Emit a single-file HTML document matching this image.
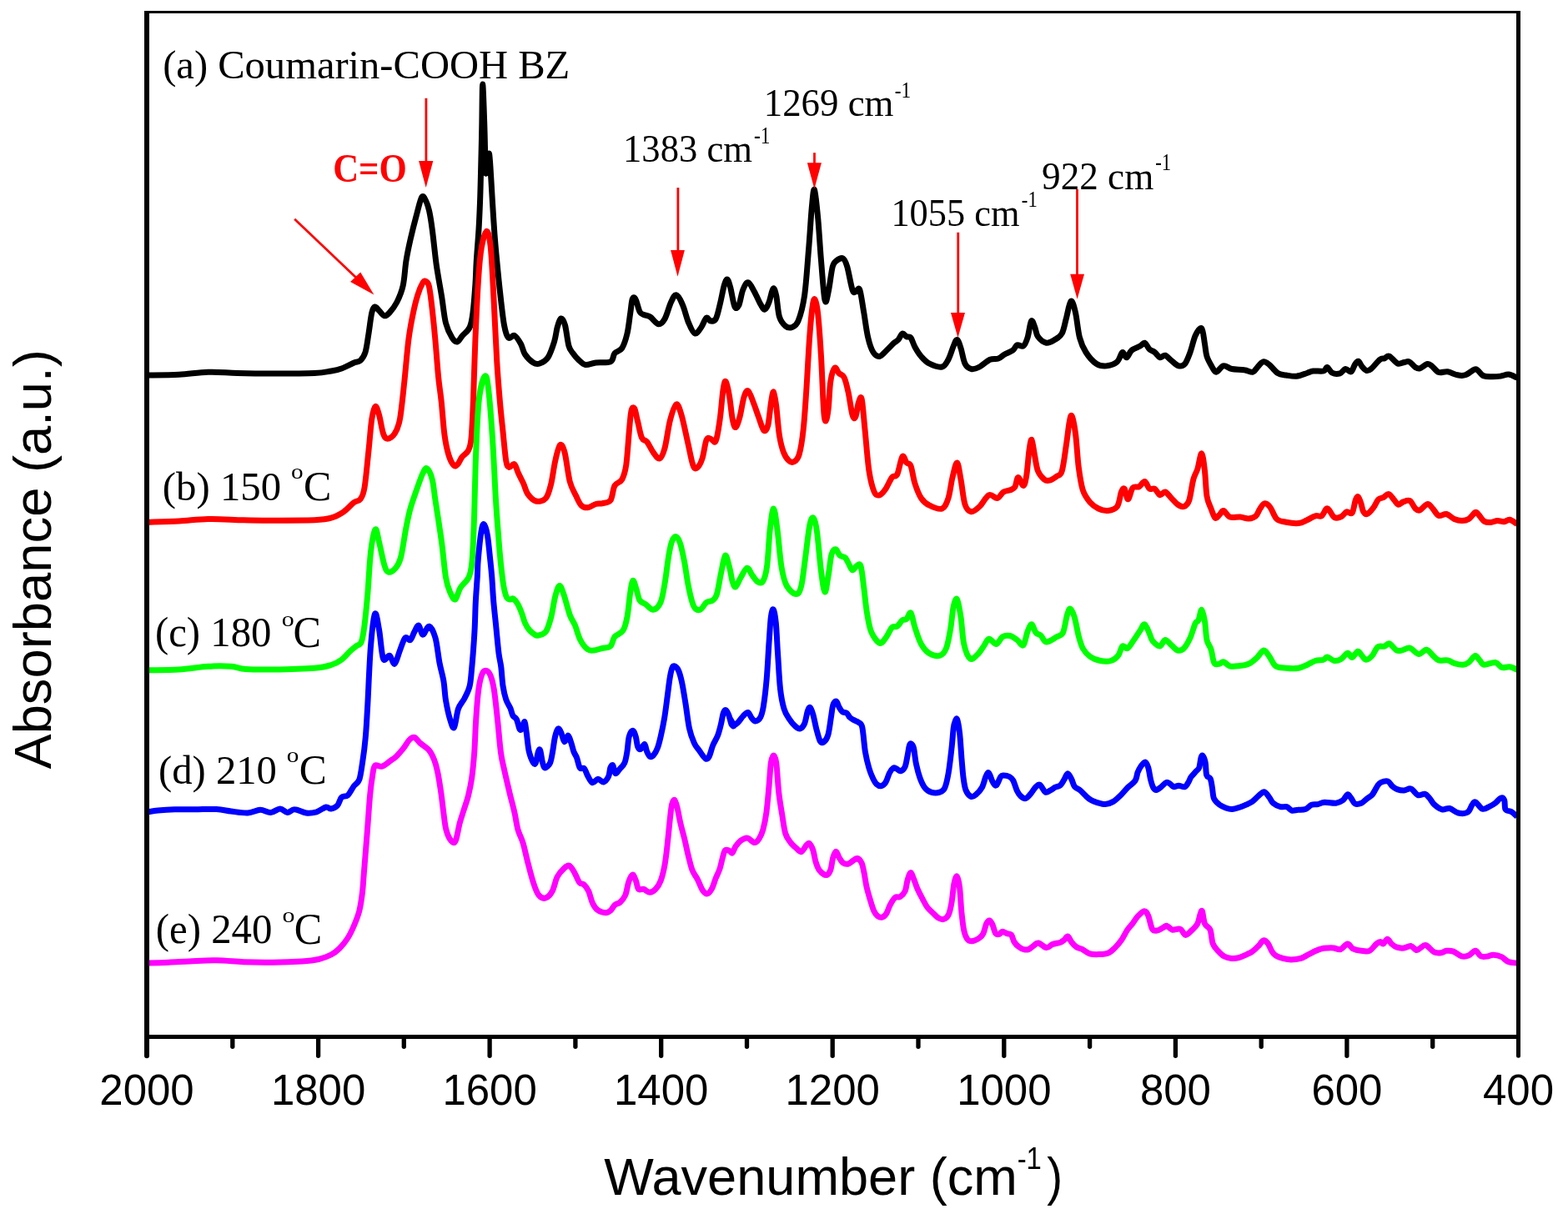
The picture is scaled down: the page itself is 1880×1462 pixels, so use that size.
<!DOCTYPE html><html><head><meta charset="utf-8"><style>html,body{margin:0;padding:0;background:#fff;overflow:hidden;width:1880px;height:1462px;}svg{display:block;}</style></head><body>
<svg width="1880" height="1462" viewBox="0 0 1880 1462">
<rect width="1880" height="1462" fill="#fff"/>
<path d="M177.0,450.0C183.2,449.9 202.4,449.9 214.5,449.3C226.6,448.7 237.8,446.6 249.5,446.3C261.2,446.0 271.6,447.2 284.5,447.5C297.4,447.8 311.6,448.0 327.0,448.0C342.4,448.0 365.3,448.0 377.0,447.5C388.7,447.0 391.6,445.9 397.0,445.0C402.4,444.1 404.9,443.7 409.5,442.0C414.1,440.3 420.8,436.6 424.5,435.0C428.2,433.4 429.8,434.6 432.0,432.5C434.2,430.4 436.3,427.9 438.0,422.5C439.7,417.1 440.7,407.9 442.0,400.0C443.3,392.1 444.5,380.3 445.8,375.0C447.0,369.7 448.0,368.4 449.5,368.0C451.0,367.6 452.6,370.7 454.5,372.5C456.4,374.3 458.7,378.3 460.8,378.8C462.8,379.2 464.5,377.7 467.0,375.0C469.5,372.3 473.0,367.9 475.8,362.5C478.5,357.1 481.4,350.8 483.2,342.5C485.1,334.2 485.5,321.7 487.0,312.5C488.5,303.3 489.9,296.7 492.0,287.5C494.1,278.3 497.2,266.0 499.5,257.5C501.8,249.0 503.9,239.0 505.8,236.2C507.6,233.5 509.3,238.5 510.8,241.2C512.2,244.0 513.2,246.9 514.5,252.5C515.8,258.1 516.8,264.2 518.2,275.0C519.7,285.8 521.4,304.2 523.2,317.5C525.1,330.8 527.6,343.3 529.5,355.0C531.4,366.7 532.4,379.2 534.5,387.5C536.6,395.8 539.7,401.2 542.0,405.0C544.3,408.8 546.2,410.4 548.2,410.0C550.3,409.6 552.0,405.4 554.5,402.5C557.0,399.6 561.2,397.1 563.2,392.5C565.3,387.9 565.9,383.8 567.0,375.0C568.1,366.2 569.3,350.4 570.0,340.0C570.7,329.6 570.6,323.3 571.3,312.5C572.0,301.7 573.3,286.6 574.0,275.0C574.7,263.4 575.0,255.5 575.5,243.0C576.0,230.5 576.3,215.5 576.7,200.0C577.1,184.5 577.5,166.5 577.8,150.0C578.1,133.5 578.2,101.0 578.7,101.0C579.2,101.0 580.3,135.2 580.8,150.0C581.3,164.8 581.5,180.3 581.8,190.0C582.1,199.7 582.2,206.7 582.6,208.0C583.0,209.3 583.7,202.0 584.3,198.0C584.9,194.0 585.7,184.5 586.2,184.0C586.8,183.5 587.2,190.0 587.6,195.0C588.0,200.0 588.3,206.5 588.8,214.0C589.2,221.5 589.6,228.8 590.3,240.0C591.0,251.2 592.2,270.7 593.0,281.5C593.8,292.3 593.9,293.6 595.0,305.0C596.1,316.4 597.9,335.8 599.5,350.0C601.1,364.2 602.8,380.8 604.5,390.0C606.2,399.2 607.4,402.9 609.5,405.0C611.6,407.1 614.5,401.2 617.0,402.5C619.5,403.8 622.4,408.8 624.5,412.5C626.6,416.2 627.0,421.2 629.5,425.0C632.0,428.8 636.6,433.2 639.5,435.0C642.4,436.8 644.1,437.0 647.0,436.0C649.9,435.0 654.1,433.1 657.0,428.8C659.9,424.4 662.6,416.0 664.5,410.0C666.4,404.0 666.9,397.2 668.2,392.5C669.6,387.8 671.2,382.4 672.8,382.0C674.3,381.6 676.0,384.5 677.5,390.0C679.0,395.5 680.4,409.4 682.0,415.0C683.6,420.6 685.1,421.0 687.0,423.8C688.9,426.5 690.8,429.0 693.2,431.2C695.8,433.5 698.5,436.9 702.0,437.5C705.5,438.1 709.5,435.6 714.5,435.0C719.5,434.4 728.2,435.6 732.0,433.8C735.8,431.9 734.7,426.5 737.0,423.8C739.3,421.0 743.2,421.5 745.8,417.5C748.2,413.5 750.3,407.1 752.0,400.0C753.7,392.9 754.7,381.9 755.8,375.0C756.8,368.1 757.2,361.5 758.2,358.8C759.3,356.0 760.5,356.2 762.0,358.8C763.5,361.2 765.3,370.6 767.0,373.8C768.7,376.9 769.9,376.5 772.0,377.5C774.1,378.5 776.6,378.1 779.5,380.0C782.4,381.9 786.6,388.3 789.5,388.8C792.4,389.2 794.5,386.9 797.0,382.5C799.5,378.1 802.2,367.3 804.5,362.5C806.8,357.7 808.5,353.3 810.8,353.8C813.0,354.2 815.8,359.4 818.2,365.0C820.8,370.6 823.2,381.7 825.8,387.5C828.2,393.3 830.8,399.2 833.2,400.0C835.8,400.8 838.5,395.6 840.8,392.5C843.0,389.4 845.1,382.5 847.0,381.2C848.9,380.0 850.1,384.8 852.0,385.0C853.9,385.2 856.4,385.8 858.2,382.5C860.1,379.2 861.6,371.7 863.2,365.0C864.9,358.3 866.8,347.5 868.2,342.5C869.7,337.5 870.8,334.6 872.0,335.0C873.2,335.4 874.3,339.6 875.8,345.0C877.2,350.4 879.1,364.0 880.8,367.5C882.4,371.0 884.1,369.6 885.8,366.2C887.4,362.9 888.9,352.1 890.8,347.5C892.6,342.9 894.7,338.3 897.0,338.8C899.3,339.2 902.0,345.6 904.5,350.0C907.0,354.4 909.9,361.5 912.0,365.0C914.1,368.5 915.3,371.7 917.0,371.2C918.7,370.8 920.3,366.7 922.0,362.5C923.7,358.3 925.5,347.5 927.0,346.2C928.5,345.0 929.5,349.4 930.8,355.0C932.0,360.6 932.6,374.0 934.5,380.0C936.4,386.0 939.5,389.2 942.0,391.2C944.5,393.3 947.0,393.5 949.5,392.5C952.0,391.5 954.5,391.2 957.0,385.0C959.5,378.8 962.4,369.2 964.5,355.0C966.6,340.8 968.0,317.5 969.5,300.0C971.0,282.5 972.1,262.1 973.2,250.0C974.4,237.9 975.2,225.4 976.5,227.5C977.8,229.6 979.4,248.3 980.8,262.5C982.1,276.7 983.1,296.2 984.5,312.5C985.9,328.8 987.5,353.8 989.0,360.0C990.5,366.2 991.7,356.7 993.2,350.0C994.8,343.3 996.6,326.2 998.2,320.0C999.9,313.8 1001.2,314.2 1003.2,312.5C1005.3,310.8 1008.7,308.8 1010.8,310.0C1012.8,311.2 1013.9,313.8 1015.8,320.0C1017.6,326.2 1020.3,342.5 1022.0,347.5C1023.7,352.5 1024.3,350.0 1025.8,350.0C1027.2,350.0 1029.1,343.3 1030.8,347.5C1032.4,351.7 1034.1,365.4 1035.8,375.0C1037.4,384.6 1038.9,397.1 1040.8,405.0C1042.6,412.9 1044.7,418.8 1047.0,422.5C1049.3,426.2 1051.8,427.9 1054.5,427.5C1057.2,427.1 1060.3,422.7 1063.2,420.0C1066.2,417.3 1069.7,413.3 1072.0,411.2C1074.3,409.2 1075.3,409.4 1077.0,407.5C1078.7,405.6 1080.3,400.6 1082.0,400.0C1083.7,399.4 1085.3,402.9 1087.0,403.8C1088.7,404.6 1090.3,402.9 1092.0,405.0C1093.7,407.1 1094.9,412.5 1097.0,416.2C1099.1,420.0 1101.6,424.2 1104.5,427.5C1107.4,430.8 1110.3,434.2 1114.5,436.2C1118.7,438.3 1125.8,440.8 1129.5,440.0C1133.2,439.2 1134.7,435.4 1137.0,431.2C1139.3,427.1 1141.5,419.0 1143.2,415.0C1145.0,411.0 1146.0,407.1 1147.5,407.5C1149.0,407.9 1150.4,412.7 1152.0,417.5C1153.6,422.3 1154.9,432.1 1157.0,436.2C1159.1,440.4 1161.6,441.9 1164.5,442.5C1167.4,443.1 1170.8,441.9 1174.5,440.0C1178.2,438.1 1183.2,432.9 1187.0,431.2C1190.8,429.6 1194.1,431.0 1197.0,430.0C1199.9,429.0 1201.6,426.7 1204.5,425.0C1207.4,423.3 1212.0,421.9 1214.5,420.0C1217.0,418.1 1217.4,414.6 1219.5,413.8C1221.6,412.9 1224.9,416.5 1227.0,415.0C1229.1,413.5 1230.4,410.0 1232.0,405.0C1233.6,400.0 1235.0,387.1 1236.5,385.0C1238.0,382.9 1239.4,389.4 1240.8,392.5C1242.1,395.6 1242.2,400.6 1244.5,403.8C1246.8,406.9 1251.2,410.6 1254.5,411.2C1257.8,411.9 1261.4,409.4 1264.5,407.5C1267.6,405.6 1271.0,404.2 1273.2,400.0C1275.5,395.8 1276.5,389.0 1278.2,382.5C1280.0,376.0 1282.1,362.5 1284.0,361.2C1285.9,360.0 1287.8,367.7 1289.5,375.0C1291.2,382.3 1292.4,397.1 1294.5,405.0C1296.6,412.9 1298.7,417.3 1302.0,422.5C1305.3,427.7 1310.3,433.5 1314.5,436.2C1318.7,439.0 1322.8,439.2 1327.0,438.8C1331.2,438.3 1336.4,436.5 1339.5,433.8C1342.6,431.0 1343.9,423.3 1345.8,422.5C1347.6,421.7 1348.9,429.2 1350.8,428.8C1352.6,428.3 1354.3,422.3 1357.0,420.0C1359.7,417.7 1364.4,416.5 1367.0,415.0C1369.6,413.5 1370.6,410.6 1372.5,411.2C1374.4,411.9 1376.2,416.9 1378.2,418.8C1380.2,420.6 1382.4,420.8 1384.5,422.5C1386.6,424.2 1388.7,428.1 1390.8,428.8C1392.8,429.4 1394.7,425.6 1397.0,426.2C1399.3,426.9 1401.8,430.4 1404.5,432.5C1407.2,434.6 1410.5,438.1 1413.2,438.8C1416.0,439.4 1418.5,439.0 1420.8,436.2C1423.0,433.5 1424.9,428.1 1427.0,422.5C1429.1,416.9 1431.0,407.3 1433.2,402.5C1435.5,397.7 1438.9,392.1 1440.8,393.8C1442.6,395.4 1443.5,406.9 1444.5,412.5C1445.5,418.1 1445.5,422.9 1447.0,427.5C1448.5,432.1 1451.4,436.9 1453.2,440.0C1455.1,443.1 1456.0,446.5 1458.2,446.2C1460.5,446.0 1463.9,439.4 1467.0,438.8C1470.1,438.1 1472.8,441.7 1477.0,442.5C1481.2,443.3 1487.8,443.1 1492.0,443.8C1496.2,444.4 1499.5,446.7 1502.0,446.2C1504.5,445.8 1504.9,443.3 1507.0,441.2C1509.1,439.2 1512.0,434.4 1514.5,433.8C1517.0,433.1 1519.1,435.2 1522.0,437.5C1524.9,439.8 1528.7,445.4 1532.0,447.5C1535.3,449.6 1538.2,449.4 1542.0,450.0C1545.8,450.6 1550.3,451.7 1554.5,451.2C1558.7,450.8 1563.7,448.5 1567.0,447.5C1570.3,446.5 1571.2,445.4 1574.5,445.0C1577.8,444.6 1584.2,445.8 1587.0,445.0C1589.8,444.2 1589.6,440.1 1591.3,440.5C1593.0,440.9 1594.8,446.0 1597.3,447.2C1599.8,448.4 1603.9,448.6 1606.6,447.8C1609.2,447.0 1611.0,442.8 1613.2,442.5C1615.4,442.2 1618.0,446.7 1619.9,445.8C1621.8,444.9 1623.1,439.3 1624.5,437.2C1625.9,435.1 1627.0,432.8 1628.5,433.2C1630.0,433.6 1631.5,437.9 1633.2,439.8C1634.9,441.7 1636.7,444.1 1638.5,444.5C1640.3,444.9 1641.1,444.7 1643.8,442.5C1646.5,440.3 1651.8,433.3 1654.5,431.2C1657.2,429.1 1657.9,430.6 1659.8,429.9C1661.7,429.2 1663.1,426.2 1665.8,427.2C1668.5,428.2 1672.7,434.7 1675.7,435.9C1678.7,437.1 1681.4,434.8 1683.7,434.5C1686.0,434.2 1687.5,432.9 1689.7,433.9C1691.9,434.9 1694.9,439.2 1697.0,440.5C1699.1,441.8 1699.9,442.5 1702.3,441.8C1704.7,441.1 1709.1,436.9 1711.6,436.5C1714.0,436.1 1714.8,437.5 1717.0,439.2C1719.2,440.9 1721.9,445.4 1725.0,446.5C1728.1,447.6 1731.8,445.2 1735.6,445.8C1739.4,446.4 1744.0,449.1 1747.6,449.8C1751.1,450.5 1753.6,450.9 1756.9,449.8C1760.2,448.7 1765.1,444.2 1767.5,443.2C1769.9,442.2 1769.7,442.6 1771.5,443.8C1773.3,445.0 1775.4,449.2 1778.1,450.5C1780.8,451.8 1783.9,451.7 1787.4,451.8C1791.0,451.9 1795.9,451.6 1799.4,451.1C1803.0,450.7 1805.4,448.8 1808.7,449.1C1812.0,449.4 1817.3,452.4 1819.0,453.1" fill="none" stroke="#000000" stroke-width="7" stroke-linejoin="round" stroke-linecap="butt"/>
<path d="M177.0,626.2C183.2,626.0 202.4,625.6 214.5,625.0C226.6,624.4 236.6,622.7 249.5,622.5C262.4,622.3 279.1,623.5 292.0,623.8C304.9,624.0 312.8,624.2 327.0,624.2C341.2,624.2 365.3,624.2 377.0,623.8C388.7,623.2 391.2,622.9 397.0,621.2C402.8,619.6 407.4,616.9 412.0,613.8C416.6,610.6 421.2,605.0 424.5,602.5C427.8,600.0 429.9,601.7 432.0,598.8C434.1,595.8 435.3,594.8 437.0,585.0C438.7,575.2 440.5,553.8 442.0,540.0C443.5,526.2 444.4,511.2 445.8,502.5C447.1,493.8 448.5,488.3 450.0,487.5C451.5,486.7 452.9,492.1 454.5,497.5C456.1,502.9 457.8,515.2 459.5,520.0C461.2,524.8 462.2,526.2 464.5,526.2C466.8,526.2 470.8,524.0 473.2,520.0C475.8,516.0 477.6,513.0 479.5,502.5C481.4,492.0 483.2,472.8 484.9,457.0C486.6,441.2 488.1,420.8 489.8,407.7C491.5,394.6 493.0,387.2 494.8,378.2C496.6,369.2 498.8,360.2 500.9,353.6C502.9,347.0 505.5,341.5 507.1,338.8C508.8,336.1 509.6,336.8 510.8,337.6C512.0,338.4 513.3,338.2 514.5,343.7C515.7,349.2 517.0,360.1 518.2,370.8C519.4,381.5 520.7,394.1 521.9,407.7C523.1,421.2 524.4,439.8 525.6,452.1C526.8,464.4 528.0,470.1 529.2,481.6C530.4,493.1 531.5,510.3 532.9,521.0C534.3,531.7 536.0,539.4 537.9,545.6C539.8,551.8 542.1,556.1 544.0,558.0C545.9,559.9 547.4,558.4 549.0,556.7C550.6,555.1 551.9,550.8 553.9,548.1C555.9,545.4 559.4,544.4 561.3,540.7C563.1,537.0 564.0,535.9 565.0,526.0C566.0,516.1 566.6,501.3 567.4,481.6C568.2,461.9 568.9,432.3 569.9,407.7C570.9,383.1 572.4,352.4 573.6,333.9C574.8,315.4 575.7,306.3 577.3,296.9C578.9,287.4 581.6,277.2 583.4,277.2C585.2,277.2 586.9,283.3 588.3,296.9C589.7,310.4 590.8,335.9 592.0,358.5C593.2,381.1 594.5,411.9 595.7,432.4C596.9,452.9 598.2,467.2 599.4,481.6C600.6,496.0 601.9,506.7 603.1,518.6C604.3,530.5 605.6,546.0 606.8,553.0C608.0,560.0 608.9,559.8 610.5,560.4C612.1,561.0 614.9,555.5 616.7,556.7C618.6,557.9 619.8,563.9 621.6,567.8C623.4,571.7 625.9,576.0 627.7,580.1C629.6,584.2 630.2,588.9 632.7,592.4C635.2,595.9 638.9,600.1 642.5,601.0C646.1,601.9 651.5,601.0 654.5,597.5C657.5,594.0 658.9,587.5 660.8,580.0C662.6,572.5 664.0,560.2 665.8,552.5C667.5,544.8 669.6,535.4 671.5,533.8C673.4,532.1 675.0,535.2 677.0,542.5C679.0,549.8 681.0,568.8 683.2,577.5C685.5,586.2 688.5,590.2 690.8,595.0C693.0,599.8 694.7,604.0 697.0,606.2C699.3,608.5 701.6,609.0 704.5,608.8C707.4,608.5 711.6,605.3 714.5,604.5C717.4,603.7 719.1,604.5 722.0,603.8C724.9,603.0 729.5,603.5 732.0,600.0C734.5,596.5 734.7,586.7 737.0,582.5C739.3,578.3 743.5,579.2 745.8,575.0C748.0,570.8 749.3,567.5 750.8,557.5C752.2,547.5 753.5,525.8 754.5,515.0C755.5,504.2 756.0,496.7 757.0,492.5C758.0,488.3 759.5,487.9 760.8,490.0C762.0,492.1 763.0,499.2 764.5,505.0C766.0,510.8 767.6,520.8 769.5,525.0C771.4,529.2 773.5,527.1 775.8,530.0C778.0,532.9 780.8,539.2 783.2,542.5C785.8,545.8 788.5,550.8 790.8,550.0C793.0,549.2 794.9,545.0 797.0,537.5C799.1,530.0 801.0,513.8 803.2,505.0C805.5,496.2 808.5,486.2 810.8,485.0C813.0,483.8 814.7,490.0 817.0,497.5C819.3,505.0 822.2,520.0 824.5,530.0C826.8,540.0 828.9,552.3 830.8,557.5C832.6,562.7 833.9,562.5 835.8,561.2C837.6,560.0 840.1,555.6 842.0,550.0C843.9,544.4 845.3,531.5 847.0,527.5C848.7,523.5 850.1,526.0 852.0,526.2C853.9,526.5 856.4,532.7 858.2,528.8C860.1,524.8 861.8,512.7 863.2,502.5C864.7,492.3 865.8,475.0 867.0,467.5C868.2,460.0 869.0,456.2 870.2,457.5C871.5,458.8 873.2,467.5 874.5,475.0C875.8,482.5 877.0,496.2 878.2,502.5C879.5,508.8 880.5,512.9 882.0,512.5C883.5,512.1 885.3,506.0 887.0,500.0C888.7,494.0 890.3,481.5 892.0,476.2C893.7,471.0 895.1,467.7 897.0,468.8C898.9,469.8 901.2,477.3 903.2,482.5C905.3,487.7 907.4,494.4 909.5,500.0C911.6,505.6 913.9,514.6 915.8,516.2C917.6,517.9 919.3,515.6 920.8,510.0C922.2,504.4 923.4,489.2 924.5,482.5C925.6,475.8 926.5,469.2 927.5,470.0C928.5,470.8 929.6,478.8 930.8,487.5C931.9,496.2 933.0,513.3 934.5,522.5C936.0,531.7 937.6,537.5 939.5,542.5C941.4,547.5 943.7,550.6 945.8,552.5C947.8,554.4 949.9,555.0 952.0,553.8C954.1,552.5 956.4,551.5 958.2,545.0C960.1,538.5 961.8,528.3 963.2,515.0C964.7,501.7 965.8,483.8 967.0,465.0C968.2,446.2 969.5,419.2 970.8,402.5C972.0,385.8 973.4,372.1 974.5,365.0C975.6,357.9 976.5,357.9 977.5,360.0C978.5,362.1 979.6,366.2 980.8,377.5C981.9,388.8 983.4,408.8 984.5,427.5C985.6,446.2 986.6,477.1 987.5,490.0C988.4,502.9 989.0,505.0 990.0,505.0C991.0,505.0 992.3,497.9 993.2,490.0C994.2,482.1 994.5,465.6 995.8,457.5C997.0,449.4 999.1,442.9 1000.8,441.2C1002.4,439.6 1003.9,445.6 1005.8,447.5C1007.6,449.4 1010.1,448.8 1012.0,452.5C1013.9,456.2 1015.3,462.5 1017.0,470.0C1018.7,477.5 1020.5,492.5 1022.0,497.5C1023.5,502.5 1024.5,502.5 1025.8,500.0C1027.0,497.5 1028.2,486.0 1029.5,482.5C1030.8,479.0 1032.0,473.3 1033.2,478.8C1034.5,484.2 1035.5,500.6 1037.0,515.0C1038.5,529.4 1040.1,552.5 1042.0,565.0C1043.9,577.5 1046.2,585.2 1048.2,590.0C1050.3,594.8 1052.2,594.4 1054.5,593.8C1056.8,593.1 1059.5,589.8 1062.0,586.2C1064.5,582.7 1067.2,575.4 1069.5,572.5C1071.8,569.6 1073.7,572.9 1075.8,568.8C1077.8,564.6 1080.1,549.8 1082.0,547.5C1083.9,545.2 1085.3,553.1 1087.0,555.0C1088.7,556.9 1090.3,554.6 1092.0,558.8C1093.7,562.9 1094.9,573.5 1097.0,580.0C1099.1,586.5 1101.6,593.1 1104.5,597.5C1107.4,601.9 1110.3,604.2 1114.5,606.2C1118.7,608.3 1125.8,611.5 1129.5,610.0C1133.2,608.5 1134.9,603.8 1137.0,597.5C1139.1,591.2 1140.2,579.6 1142.0,572.5C1143.8,565.4 1145.8,554.6 1147.5,555.0C1149.2,555.4 1150.4,566.7 1152.0,575.0C1153.6,583.3 1154.9,598.5 1157.0,605.0C1159.1,611.5 1161.6,613.3 1164.5,613.8C1167.4,614.2 1171.0,610.8 1174.5,607.5C1178.0,604.2 1182.2,595.4 1185.8,593.8C1189.3,592.1 1192.8,598.1 1195.8,597.5C1198.7,596.9 1200.5,591.7 1203.2,590.0C1206.0,588.3 1209.7,588.5 1212.0,587.5C1214.3,586.5 1215.5,586.2 1217.0,583.8C1218.5,581.2 1219.1,572.7 1220.8,572.5C1222.4,572.3 1225.3,582.9 1227.0,582.5C1228.7,582.1 1229.6,577.1 1230.8,570.0C1231.9,562.9 1233.0,547.1 1234.0,540.0C1235.0,532.9 1235.9,526.2 1237.0,527.5C1238.1,528.8 1239.5,541.2 1240.8,547.5C1242.0,553.8 1242.6,560.4 1244.5,565.0C1246.4,569.6 1249.7,573.1 1252.0,575.0C1254.3,576.9 1255.8,576.9 1258.2,576.2C1260.8,575.6 1264.5,573.1 1267.0,571.2C1269.5,569.4 1271.4,571.0 1273.2,565.0C1275.1,559.0 1276.8,544.6 1278.2,535.0C1279.7,525.4 1280.9,513.5 1282.0,507.5C1283.1,501.5 1283.8,496.7 1285.0,498.8C1286.2,500.8 1288.1,509.8 1289.5,520.0C1290.9,530.2 1291.8,548.8 1293.2,560.0C1294.7,571.2 1296.0,580.4 1298.2,587.5C1300.5,594.6 1303.9,598.8 1307.0,602.5C1310.1,606.2 1313.5,608.3 1317.0,610.0C1320.5,611.7 1324.5,612.9 1328.2,612.5C1332.0,612.1 1336.8,611.2 1339.5,607.5C1342.2,603.8 1343.0,593.5 1344.5,590.0C1346.0,586.5 1346.9,584.8 1348.2,586.2C1349.6,587.7 1350.8,599.0 1352.5,598.8C1354.2,598.5 1356.0,587.5 1358.2,585.0C1360.5,582.5 1363.4,585.0 1365.8,583.8C1368.1,582.5 1370.4,577.1 1372.5,577.5C1374.6,577.9 1376.2,584.8 1378.2,586.2C1380.2,587.7 1382.4,585.0 1384.5,586.2C1386.6,587.5 1388.7,593.1 1390.8,593.8C1392.8,594.4 1394.7,589.4 1397.0,590.0C1399.3,590.6 1402.0,595.0 1404.5,597.5C1407.0,600.0 1409.5,603.3 1412.0,605.0C1414.5,606.7 1417.2,608.3 1419.5,607.5C1421.8,606.7 1423.9,605.4 1425.8,600.0C1427.6,594.6 1429.1,581.2 1430.8,575.0C1432.4,568.8 1434.1,567.7 1435.8,562.5C1437.4,557.3 1439.3,543.3 1440.8,543.8C1442.2,544.2 1443.5,556.5 1444.5,565.0C1445.5,573.5 1445.8,587.5 1447.0,595.0C1448.2,602.5 1450.3,605.6 1452.0,610.0C1453.7,614.4 1455.3,620.0 1457.0,621.2C1458.7,622.5 1460.3,619.0 1462.0,617.5C1463.7,616.0 1464.9,612.1 1467.0,612.5C1469.1,612.9 1471.2,618.8 1474.5,620.0C1477.8,621.2 1483.2,619.7 1487.0,620.0C1490.8,620.3 1493.9,622.2 1497.0,622.0C1500.1,621.8 1503.5,620.8 1505.8,618.8C1508.0,616.8 1509.0,612.5 1510.8,610.0C1512.5,607.5 1514.4,604.0 1516.5,603.8C1518.6,603.5 1520.9,605.6 1523.2,608.8C1525.6,611.9 1527.6,619.6 1530.8,622.5C1533.9,625.4 1537.6,625.4 1542.0,626.2C1546.4,627.1 1552.8,627.9 1557.0,627.5C1561.2,627.1 1563.7,625.2 1567.0,623.8C1570.3,622.3 1574.1,619.6 1577.0,618.8C1579.9,617.9 1582.2,620.2 1584.5,618.8C1586.8,617.3 1588.9,610.8 1590.6,609.9C1592.3,609.0 1593.0,611.4 1594.6,613.2C1596.1,615.0 1597.7,619.4 1599.9,620.5C1602.1,621.6 1605.5,620.9 1607.9,619.8C1610.4,618.7 1612.4,614.7 1614.6,613.9C1616.8,613.1 1619.4,617.5 1621.2,615.2C1623.0,612.9 1624.0,603.1 1625.2,599.9C1626.4,596.7 1627.4,595.2 1628.5,595.9C1629.6,596.6 1630.9,601.0 1631.9,603.9C1632.9,606.8 1633.3,611.1 1634.5,613.2C1635.7,615.3 1637.2,617.2 1639.2,616.5C1641.2,615.8 1644.3,612.1 1646.5,609.2C1648.7,606.3 1650.5,601.3 1652.5,599.2C1654.5,597.1 1656.4,597.7 1658.5,596.6C1660.6,595.5 1662.9,592.1 1665.1,592.6C1667.3,593.1 1669.9,597.8 1671.8,599.9C1673.7,602.0 1674.6,604.9 1676.4,605.2C1678.2,605.5 1680.1,602.7 1682.4,601.9C1684.7,601.1 1688.0,599.3 1690.4,600.6C1692.8,601.9 1695.0,608.0 1697.0,609.9C1699.0,611.8 1699.9,612.8 1702.3,611.9C1704.7,611.0 1708.9,604.7 1711.6,604.5C1714.3,604.3 1716.1,608.2 1718.3,610.5C1720.5,612.8 1722.3,617.5 1725.0,618.5C1727.7,619.5 1731.2,615.8 1734.3,616.5C1737.4,617.2 1740.5,621.2 1743.6,622.5C1746.7,623.8 1750.0,624.5 1752.9,624.5C1755.8,624.5 1758.2,624.2 1760.9,622.5C1763.6,620.8 1766.8,615.4 1768.8,614.5C1770.8,613.6 1771.0,615.4 1772.8,617.2C1774.6,619.0 1777.1,623.7 1779.5,625.2C1781.9,626.8 1784.8,626.6 1787.4,626.5C1790.1,626.4 1792.7,624.6 1795.4,624.5C1798.1,624.4 1801.0,626.0 1803.4,625.8C1805.9,625.6 1807.5,622.8 1810.1,623.2C1812.7,623.7 1817.5,627.6 1819.0,628.5" fill="none" stroke="#ff0000" stroke-width="7" stroke-linejoin="round" stroke-linecap="butt"/>
<path d="M177.0,803.8C183.2,803.6 202.4,803.8 214.5,803.0C226.6,802.2 239.1,799.9 249.5,799.2C259.9,798.6 269.5,798.7 277.0,799.2C284.5,799.8 286.2,801.9 294.5,802.5C302.8,803.1 313.2,803.2 327.0,803.0C340.8,802.8 365.3,802.2 377.0,801.2C388.7,800.3 391.6,799.2 397.0,797.5C402.4,795.8 405.8,794.0 409.5,791.2C413.2,788.5 416.6,784.0 419.5,781.2C422.4,778.5 424.7,776.9 427.0,775.0C429.3,773.1 431.6,774.2 433.2,770.0C434.9,765.8 435.8,759.6 437.0,750.0C438.2,740.4 439.5,727.1 440.8,712.5C442.0,697.9 443.0,675.4 444.5,662.5C446.0,649.6 448.3,637.1 450.0,635.0C451.7,632.9 452.7,642.9 454.5,650.0C456.3,657.1 458.9,671.5 460.8,677.5C462.6,683.5 463.5,685.6 465.8,686.2C468.0,686.9 472.0,684.4 474.5,681.2C477.0,678.1 478.7,675.6 480.8,667.5C482.8,659.4 485.1,642.1 487.0,632.5C488.9,622.9 489.9,617.5 492.0,610.0C494.1,602.5 497.0,594.6 499.5,587.5C502.0,580.4 504.9,571.8 507.0,567.5C509.1,563.2 510.1,560.8 512.0,562.0C513.9,563.2 516.6,568.7 518.2,575.0C519.9,581.3 520.1,587.5 522.0,600.0C523.9,612.5 527.4,634.6 529.5,650.0C531.6,665.4 532.8,682.5 534.5,692.5C536.2,702.5 537.6,705.6 539.5,710.0C541.4,714.4 543.7,719.8 545.8,719.0C547.8,718.2 549.3,709.4 552.0,705.0C554.7,700.6 559.7,697.5 562.0,692.5C564.3,687.5 564.7,685.4 565.8,675.0C566.8,664.6 567.4,652.5 568.2,630.0C569.1,607.5 569.7,565.4 570.8,540.0C571.8,514.6 572.7,492.3 574.5,477.5C576.3,462.7 579.6,452.4 581.5,451.0C583.4,449.6 584.4,456.0 585.9,469.3C587.4,482.6 589.4,509.1 590.8,530.9C592.2,552.7 593.4,581.8 594.5,600.0C595.6,618.2 596.6,629.9 597.4,640.0C598.1,650.1 598.4,653.7 599.0,660.5C599.6,667.3 600.2,674.2 601.0,681.0C601.8,687.8 602.6,695.7 603.6,701.5C604.6,707.3 605.9,713.0 607.2,715.9C608.5,718.8 609.9,718.6 611.3,719.0C612.7,719.4 613.9,717.1 615.4,718.0C616.9,718.9 618.8,721.2 620.5,724.1C622.2,727.0 624.1,731.5 625.6,735.4C627.1,739.3 628.2,744.3 629.7,747.7C631.2,751.1 633.0,753.7 634.9,755.9C636.8,758.1 639.3,760.0 641.0,761.0C642.7,762.0 642.9,762.7 645.1,762.1C647.4,761.5 651.9,761.2 654.5,757.5C657.1,753.8 658.9,747.1 660.8,740.0C662.6,732.9 664.1,721.2 665.8,715.0C667.4,708.8 669.1,702.9 670.8,702.5C672.4,702.1 673.7,706.7 675.8,712.5C677.8,718.3 681.0,731.2 683.2,737.5C685.5,743.8 687.4,745.0 689.5,750.0C691.6,755.0 693.2,762.7 695.8,767.5C698.2,772.3 701.8,776.7 704.5,778.8C707.2,780.8 709.1,780.2 712.0,780.0C714.9,779.8 718.7,778.3 722.0,777.5C725.3,776.7 729.5,777.3 732.0,775.0C734.5,772.7 734.5,766.9 737.0,763.8C739.5,760.6 744.5,760.2 747.0,756.2C749.5,752.3 750.5,747.7 752.0,740.0C753.5,732.3 754.6,717.3 755.8,710.0C756.9,702.7 757.8,696.7 759.0,696.2C760.2,695.8 761.9,703.5 763.2,707.5C764.6,711.5 765.1,717.1 767.0,720.0C768.9,722.9 771.8,723.1 774.5,725.0C777.2,726.9 780.3,731.7 783.2,731.2C786.2,730.8 789.7,727.7 792.0,722.5C794.3,717.3 795.3,709.6 797.0,700.0C798.7,690.4 800.5,673.5 802.0,665.0C803.5,656.5 804.3,652.3 805.8,648.8C807.2,645.2 809.1,643.1 810.8,643.8C812.4,644.4 814.1,647.3 815.8,652.5C817.4,657.7 819.1,666.2 820.8,675.0C822.4,683.8 823.9,696.2 825.8,705.0C827.6,713.8 829.7,723.1 832.0,727.5C834.3,731.9 837.0,732.1 839.5,731.2C842.0,730.4 844.5,724.4 847.0,722.5C849.5,720.6 852.4,721.7 854.5,720.0C856.6,718.3 857.8,717.9 859.5,712.5C861.2,707.1 862.8,695.2 864.5,687.5C866.2,679.8 867.8,667.5 869.5,666.2C871.2,665.0 873.0,674.8 874.5,680.0C876.0,685.2 877.0,693.5 878.2,697.5C879.5,701.5 880.3,704.6 882.0,703.8C883.7,702.9 886.0,696.2 888.2,692.5C890.5,688.8 893.5,681.7 895.8,681.2C898.0,680.8 899.9,687.3 902.0,690.0C904.1,692.7 906.2,696.2 908.2,697.5C910.3,698.8 912.6,700.4 914.5,697.5C916.4,694.6 918.0,690.4 919.5,680.0C921.0,669.6 921.9,646.7 923.2,635.0C924.6,623.3 926.0,610.0 927.5,610.0C929.0,610.0 930.4,623.3 932.0,635.0C933.6,646.7 935.1,668.8 937.0,680.0C938.9,691.2 940.3,697.1 943.2,702.5C946.2,707.9 951.6,712.5 954.5,712.5C957.4,712.5 958.9,710.0 960.8,702.5C962.6,695.0 964.1,679.6 965.8,667.5C967.4,655.4 969.2,637.7 970.8,630.0C972.3,622.3 973.8,620.0 975.2,621.2C976.7,622.5 978.0,626.9 979.5,637.5C981.0,648.1 982.9,672.9 984.5,685.0C986.1,697.1 987.5,709.2 989.0,710.0C990.5,710.8 991.9,697.5 993.2,690.0C994.6,682.5 995.5,670.2 997.0,665.0C998.5,659.8 1000.3,658.5 1002.0,658.8C1003.7,659.0 1005.1,664.6 1007.0,666.2C1008.9,667.9 1011.6,667.3 1013.2,668.8C1014.9,670.2 1015.5,672.5 1017.0,675.0C1018.5,677.5 1020.3,683.1 1022.0,683.8C1023.7,684.4 1025.3,679.6 1027.0,678.8C1028.7,677.9 1030.5,674.4 1032.0,678.8C1033.5,683.1 1034.5,695.6 1035.8,705.0C1037.0,714.4 1038.0,726.2 1039.5,735.0C1041.0,743.8 1042.0,751.5 1044.5,757.5C1047.0,763.5 1051.6,770.0 1054.5,771.2C1057.4,772.5 1059.5,768.1 1062.0,765.0C1064.5,761.9 1067.2,754.8 1069.5,752.5C1071.8,750.2 1073.7,752.7 1075.8,751.2C1077.8,749.8 1080.1,745.2 1082.0,743.8C1083.9,742.3 1085.3,744.0 1087.0,742.5C1088.7,741.0 1090.3,733.3 1092.0,735.0C1093.7,736.7 1094.9,746.2 1097.0,752.5C1099.1,758.8 1101.6,767.3 1104.5,772.5C1107.4,777.7 1110.8,781.5 1114.5,783.8C1118.2,786.0 1123.7,787.3 1127.0,786.2C1130.3,785.2 1132.4,782.7 1134.5,777.5C1136.6,772.3 1138.0,763.3 1139.5,755.0C1141.0,746.7 1141.9,733.5 1143.2,727.5C1144.6,721.5 1146.0,716.7 1147.5,718.8C1149.0,720.8 1150.6,731.0 1152.0,740.0C1153.4,749.0 1153.9,764.2 1155.8,772.5C1157.6,780.8 1160.5,787.9 1163.2,790.0C1166.0,792.1 1169.3,787.5 1172.0,785.0C1174.7,782.5 1177.2,778.1 1179.5,775.0C1181.8,771.9 1183.2,766.7 1185.8,766.2C1188.2,765.8 1191.8,772.9 1194.5,772.5C1197.2,772.1 1199.3,765.4 1202.0,763.8C1204.7,762.1 1207.8,761.9 1210.8,762.5C1213.7,763.1 1216.8,765.6 1219.5,767.5C1222.2,769.4 1224.9,775.4 1227.0,773.8C1229.1,772.1 1230.3,761.7 1232.0,757.5C1233.7,753.3 1235.3,748.5 1237.0,748.8C1238.7,749.0 1240.1,756.5 1242.0,758.8C1243.9,761.0 1246.2,760.6 1248.2,762.5C1250.3,764.4 1251.4,769.8 1254.5,770.0C1257.6,770.2 1263.7,765.6 1267.0,763.8C1270.3,761.9 1272.4,763.1 1274.5,758.8C1276.6,754.4 1278.0,742.3 1279.5,737.5C1281.0,732.7 1281.8,729.6 1283.2,730.0C1284.7,730.4 1286.6,734.6 1288.2,740.0C1289.9,745.4 1291.6,756.2 1293.2,762.5C1294.9,768.8 1296.0,773.3 1298.2,777.5C1300.5,781.7 1303.5,785.0 1307.0,787.5C1310.5,790.0 1315.3,791.7 1319.5,792.5C1323.7,793.3 1328.5,793.5 1332.0,792.5C1335.5,791.5 1338.5,789.2 1340.8,786.2C1343.0,783.3 1343.9,776.5 1345.8,775.0C1347.6,773.5 1349.7,778.8 1352.0,777.5C1354.3,776.2 1357.0,771.0 1359.5,767.5C1362.0,764.0 1364.8,759.4 1367.0,756.2C1369.2,753.1 1370.6,748.1 1372.5,748.8C1374.4,749.4 1376.7,756.7 1378.2,760.0C1379.8,763.3 1379.9,766.2 1382.0,768.8C1384.1,771.2 1388.2,775.2 1390.8,775.0C1393.2,774.8 1394.7,767.7 1397.0,767.5C1399.3,767.3 1402.0,771.7 1404.5,773.8C1407.0,775.8 1409.5,779.4 1412.0,780.0C1414.5,780.6 1417.0,780.0 1419.5,777.5C1422.0,775.0 1424.7,770.0 1427.0,765.0C1429.3,760.0 1431.6,751.0 1433.2,747.5C1434.9,744.0 1435.8,746.5 1437.0,743.8C1438.2,741.0 1439.5,731.0 1440.8,731.2C1442.0,731.5 1443.5,739.0 1444.5,745.0C1445.5,751.0 1445.8,761.9 1447.0,767.5C1448.2,773.1 1450.5,774.2 1452.0,778.8C1453.5,783.3 1454.1,792.1 1455.8,795.0C1457.4,797.9 1460.1,796.5 1462.0,796.2C1463.9,796.0 1464.9,793.3 1467.0,793.8C1469.1,794.2 1471.6,797.9 1474.5,798.8C1477.4,799.6 1480.8,799.2 1484.5,798.8C1488.2,798.3 1493.2,797.9 1497.0,796.2C1500.8,794.6 1504.0,791.5 1507.0,788.8C1510.0,786.0 1512.8,780.2 1515.2,780.0C1517.8,779.8 1519.6,784.4 1522.0,787.5C1524.4,790.6 1526.2,796.5 1529.5,798.8C1532.8,801.0 1537.4,800.8 1542.0,801.2C1546.6,801.7 1552.8,801.9 1557.0,801.2C1561.2,800.6 1563.7,799.0 1567.0,797.5C1570.3,796.0 1573.7,793.5 1577.0,792.5C1580.3,791.5 1584.6,792.0 1587.0,791.2C1589.4,790.5 1589.1,787.7 1591.3,787.9C1593.5,788.1 1597.1,792.1 1599.9,792.5C1602.7,792.9 1605.2,792.0 1607.9,790.5C1610.6,789.0 1613.7,783.5 1615.9,783.2C1618.1,782.9 1619.2,788.8 1621.2,788.5C1623.2,788.2 1626.0,781.6 1627.9,781.2C1629.8,780.8 1630.8,784.2 1632.5,785.9C1634.2,787.6 1635.7,791.1 1637.8,791.2C1639.9,791.3 1642.9,789.0 1645.2,786.5C1647.5,784.0 1649.4,777.8 1651.8,775.9C1654.2,774.0 1657.5,775.9 1659.8,775.2C1662.1,774.5 1663.4,771.1 1665.8,771.9C1668.2,772.7 1671.9,778.6 1674.4,779.9C1677.0,781.2 1678.4,780.3 1681.1,779.9C1683.8,779.5 1687.1,776.4 1690.4,777.2C1693.7,778.0 1697.7,784.2 1701.0,784.5C1704.3,784.8 1707.4,778.9 1710.3,779.2C1713.2,779.5 1715.8,784.4 1718.3,786.5C1720.8,788.6 1722.1,791.0 1725.0,791.9C1727.9,792.8 1732.3,791.2 1735.6,791.9C1738.9,792.6 1741.8,795.0 1744.9,795.9C1748.0,796.8 1751.5,797.4 1754.2,797.2C1756.9,797.0 1758.5,796.3 1760.9,794.5C1763.3,792.7 1766.6,786.9 1768.8,786.5C1771.0,786.1 1772.3,790.1 1774.1,791.9C1775.9,793.7 1776.4,796.8 1779.5,797.2C1782.6,797.6 1789.3,794.0 1792.8,794.5C1796.3,795.0 1797.8,799.6 1800.7,800.5C1803.6,801.4 1807.0,799.3 1810.1,799.8C1813.1,800.2 1817.5,802.6 1819.0,803.2" fill="none" stroke="#00ff00" stroke-width="7" stroke-linejoin="round" stroke-linecap="butt"/>
<path d="M177.0,973.8C179.1,973.5 184.1,972.5 189.5,972.0C194.9,971.5 202.0,971.0 209.5,970.8C217.0,970.5 226.2,970.8 234.5,970.8C242.8,970.7 252.4,970.1 259.5,970.5C266.6,970.9 270.8,972.2 277.0,973.0C283.2,973.8 291.2,975.3 297.0,975.0C302.8,974.7 307.4,971.3 312.0,971.2C316.6,971.2 320.5,974.7 324.5,974.5C328.5,974.3 332.4,970.0 335.8,970.0C339.1,970.0 341.6,974.4 344.5,974.5C347.4,974.6 349.5,970.7 353.2,970.8C357.0,970.8 362.6,974.5 367.0,975.0C371.4,975.5 375.5,974.9 379.5,973.8C383.5,972.6 387.8,968.6 390.8,968.0C393.7,967.4 394.7,970.3 397.0,970.0C399.3,969.7 402.4,968.5 404.5,966.2C406.6,964.0 407.4,958.3 409.5,956.2C411.6,954.2 414.5,956.0 417.0,953.8C419.5,951.5 422.2,945.6 424.5,942.5C426.8,939.4 429.1,939.6 430.8,935.0C432.4,930.4 433.2,923.3 434.5,915.0C435.8,906.7 437.2,896.7 438.2,885.0C439.3,873.3 439.7,863.3 440.8,845.0C441.8,826.7 443.0,793.1 444.5,775.0C446.0,756.9 447.8,739.6 449.5,736.2C451.2,732.9 452.8,746.0 454.5,755.0C456.2,764.0 457.4,784.8 459.5,790.0C461.6,795.2 464.7,785.2 467.0,786.2C469.3,787.3 471.2,797.3 473.2,796.2C475.3,795.2 477.4,785.2 479.5,780.0C481.6,774.8 483.7,767.1 485.8,765.0C487.8,762.9 490.1,768.8 492.0,767.5C493.9,766.2 495.3,760.4 497.0,757.5C498.7,754.6 500.3,749.4 502.0,750.0C503.7,750.6 504.9,761.0 507.0,761.2C509.1,761.5 512.0,750.6 514.5,751.2C517.0,751.9 519.9,757.7 522.0,765.0C524.1,772.3 525.3,786.2 527.0,795.0C528.7,803.8 530.8,810.0 532.0,817.5C533.2,825.0 533.2,832.5 534.5,840.0C535.8,847.5 537.8,857.1 539.5,862.5C541.2,867.9 542.8,874.6 544.5,872.5C546.2,870.4 547.4,855.8 549.5,850.0C551.6,844.2 554.7,842.1 557.0,837.5C559.3,832.9 561.8,828.8 563.2,822.5C564.7,816.2 565.1,806.5 565.8,800.0C566.4,793.5 566.6,791.5 567.2,783.6C567.8,775.7 568.7,763.1 569.2,752.8C569.7,742.5 569.8,732.2 570.3,722.0C570.8,711.8 571.8,699.8 572.3,691.3C572.8,682.8 572.5,679.8 573.3,670.8C574.1,661.8 575.8,644.5 577.0,637.5C578.2,630.5 579.0,627.9 580.2,628.8C581.5,629.6 583.3,635.5 584.5,642.5C585.7,649.5 586.8,662.7 587.7,670.8C588.6,678.9 589.0,682.8 589.7,691.3C590.4,699.8 590.9,711.8 591.8,722.0C592.7,732.2 593.9,742.5 594.9,752.8C595.9,763.1 597.0,775.7 598.0,783.6C599.0,791.5 600.0,793.5 600.8,800.0C601.6,806.5 602.0,816.1 603.0,822.6C604.0,829.1 605.2,834.4 606.7,838.9C608.2,843.4 610.5,846.2 611.9,849.4C613.3,852.6 613.6,856.1 614.9,858.3C616.1,860.5 618.0,860.1 619.4,862.8C620.8,865.5 622.0,873.0 623.1,874.7C624.2,876.4 625.1,874.7 626.1,873.2C627.1,871.7 628.1,864.7 629.0,865.7C629.9,866.7 630.4,873.2 631.3,879.2C632.2,885.2 632.9,895.5 634.3,901.5C635.7,907.5 638.1,912.7 639.5,914.9C640.9,917.1 641.4,917.1 642.4,914.9C643.4,912.7 644.5,904.0 645.4,901.5C646.3,899.0 646.8,897.8 647.7,900.0C648.6,902.2 649.6,911.4 650.6,914.9C651.6,918.4 652.1,920.9 653.6,920.9C655.1,920.9 658.1,918.1 659.6,914.9C661.1,911.7 661.6,906.7 662.6,901.5C663.6,896.3 664.4,888.2 665.5,883.6C666.6,879.0 668.0,874.6 669.3,873.9C670.5,873.2 671.8,876.6 673.0,879.2C674.2,881.8 675.3,889.1 676.7,889.6C678.1,890.1 679.8,881.9 681.2,882.1C682.6,882.4 683.8,887.9 684.9,891.1C686.0,894.3 686.8,898.5 687.9,901.5C689.0,904.5 690.4,905.7 691.6,908.9C692.8,912.1 693.8,918.8 695.3,920.9C696.8,923.0 699.0,920.1 700.5,921.6C702.0,923.1 702.7,926.9 704.3,929.8C705.9,932.6 708.1,938.0 710.2,938.7C712.3,939.5 714.7,934.4 716.9,934.3C719.1,934.2 721.5,938.5 723.6,938.0C725.7,937.5 728.2,934.1 729.6,931.3C731.0,928.4 730.9,923.1 731.8,920.9C732.7,918.7 733.8,916.8 734.8,917.9C735.8,919.0 736.4,926.9 737.8,927.6C739.2,928.3 741.1,924.4 743.0,922.3C744.9,920.2 747.4,918.4 748.9,914.9C750.4,911.4 751.0,906.7 751.9,901.5C752.8,896.3 753.1,887.8 754.2,883.6C755.3,879.4 757.2,876.2 758.6,876.2C760.0,876.2 761.3,880.4 762.3,883.6C763.3,886.8 763.6,893.0 764.6,895.5C765.6,898.0 766.9,899.0 768.3,898.5C769.7,898.0 771.6,892.1 772.8,892.6C774.0,893.1 774.6,899.0 775.7,901.5C776.8,904.0 778.1,906.9 779.5,907.5C780.9,908.1 782.4,907.0 783.9,905.2C785.4,903.5 787.0,900.6 788.4,897.0C789.8,893.4 790.7,889.6 792.1,883.6C793.5,877.6 795.2,869.5 796.6,861.3C798.0,853.1 799.2,842.7 800.3,834.5C801.4,826.3 802.3,817.8 803.3,812.1C804.3,806.4 805.2,802.3 806.3,800.2C807.4,798.1 808.8,798.8 810.0,799.5C811.2,800.2 812.5,801.6 813.7,804.7C815.0,807.8 816.1,811.7 817.5,818.1C818.9,824.5 820.4,834.2 821.9,843.4C823.4,852.6 824.7,865.2 826.4,873.2C828.1,881.2 830.3,886.6 832.3,891.1C834.3,895.6 836.1,896.9 838.3,900.0C840.5,903.1 843.7,908.5 845.7,909.7C847.7,911.0 848.7,910.1 850.2,907.5C851.7,904.9 853.0,898.2 854.7,894.0C856.4,889.8 859.0,886.3 860.6,882.1C862.2,877.9 863.3,873.2 864.4,868.7C865.5,864.2 866.3,858.1 867.3,855.3C868.3,852.4 869.2,851.1 870.3,851.6C871.4,852.1 872.9,855.4 874.0,858.3C875.1,861.1 876.0,866.7 877.0,868.7C878.0,870.7 880.0,871.6 880.0,870.2C879.6,868.8 874.5,860.5 874.5,860.4C874.5,860.3 878.0,868.4 879.7,869.4C881.4,870.4 883.0,868.1 884.9,866.4C886.8,864.6 888.9,860.9 890.9,858.9C892.9,856.9 895.1,854.1 896.8,854.5C898.5,854.9 899.8,859.5 901.3,861.2C902.8,862.9 904.0,865.0 905.7,864.9C907.4,864.8 910.1,863.4 911.7,860.4C913.3,857.4 914.1,854.7 915.4,847.0C916.6,839.3 918.1,827.2 919.2,814.3C920.3,801.4 921.2,782.0 922.1,769.6C923.0,757.2 923.5,746.2 924.4,739.8C925.3,733.3 926.3,729.7 927.3,730.9C928.3,732.1 929.4,738.3 930.3,747.2C931.2,756.1 931.7,771.3 932.6,784.5C933.5,797.7 934.3,815.3 935.5,826.2C936.7,837.1 938.2,844.0 940.0,850.0C941.8,856.0 943.8,858.4 946.0,861.9C948.2,865.4 951.2,868.9 953.4,870.9C955.6,872.9 957.5,874.3 959.4,873.8C961.3,873.3 963.1,871.4 964.6,867.9C966.1,864.4 967.2,856.2 968.3,853.0C969.4,849.8 970.2,847.8 971.3,848.5C972.4,849.2 973.8,853.3 975.0,857.5C976.2,861.7 977.3,868.6 978.7,873.8C980.1,879.0 981.7,886.0 983.2,888.7C984.7,891.4 986.1,891.2 987.7,890.0C989.3,888.8 991.4,886.5 992.9,881.3C994.4,876.1 995.6,864.9 996.6,858.9C997.6,852.9 997.8,848.5 998.8,845.5C999.8,842.5 1001.4,840.6 1002.6,841.1C1003.9,841.6 1005.1,846.4 1006.3,848.5C1007.5,850.6 1008.5,852.6 1010.0,853.7C1011.5,854.8 1013.7,854.1 1015.2,855.2C1016.7,856.3 1017.5,859.0 1018.9,860.4C1020.3,861.8 1021.6,862.4 1023.4,863.4C1025.2,864.4 1027.7,864.9 1029.4,866.4C1031.1,867.9 1032.5,866.4 1033.8,872.3C1035.1,878.2 1036.1,893.6 1037.4,901.7C1038.8,909.8 1040.4,915.9 1041.9,921.1C1043.4,926.3 1044.9,929.8 1046.4,933.0C1047.9,936.2 1049.2,938.8 1050.9,940.4C1052.6,942.0 1055.0,943.1 1056.8,942.7C1058.6,942.3 1060.4,940.8 1062.0,938.2C1063.6,935.6 1065.0,929.9 1066.5,927.0C1068.0,924.1 1069.6,922.0 1071.0,921.1C1072.4,920.2 1073.2,921.2 1074.7,921.8C1076.2,922.4 1078.2,925.2 1079.9,924.8C1081.6,924.4 1083.7,922.7 1085.1,919.6C1086.5,916.5 1087.2,910.4 1088.1,906.2C1089.0,902.0 1089.5,896.7 1090.3,894.3C1091.0,891.9 1091.7,891.5 1092.6,892.0C1093.5,892.5 1094.5,893.1 1095.5,897.2C1096.5,901.3 1097.2,910.6 1098.5,916.6C1099.8,922.6 1101.3,928.3 1103.0,933.0C1104.7,937.7 1106.7,942.0 1108.9,944.9C1111.1,947.8 1113.4,949.2 1116.4,950.1C1119.4,951.0 1124.1,951.0 1126.8,950.1C1129.5,949.2 1131.1,948.8 1132.8,944.9C1134.5,941.0 1135.8,935.0 1137.2,927.0C1138.6,919.0 1140.0,906.1 1141.0,897.2C1142.0,888.3 1142.5,878.9 1143.2,873.4C1143.9,867.9 1144.7,866.2 1145.4,864.5C1146.2,862.8 1146.8,860.5 1147.7,863.0C1148.6,865.5 1149.7,871.7 1150.6,879.4C1151.5,887.1 1152.2,900.3 1152.9,909.2C1153.7,918.1 1154.2,926.5 1155.1,933.0C1156.0,939.5 1156.6,944.2 1158.1,947.9C1159.6,951.6 1162.0,954.4 1164.0,955.3C1166.0,956.2 1167.8,955.0 1170.0,953.1C1172.2,951.2 1175.5,947.8 1177.5,944.2C1179.5,940.6 1180.6,934.4 1181.9,931.5C1183.2,928.6 1184.2,926.0 1185.6,927.0C1187.0,928.0 1188.6,935.0 1190.1,937.5C1191.6,940.0 1193.0,942.9 1194.6,941.9C1196.2,940.9 1198.3,933.5 1199.8,931.5C1201.3,929.5 1201.8,930.0 1203.5,930.0C1205.2,930.0 1208.3,930.5 1210.2,931.5C1212.1,932.5 1213.2,933.3 1214.7,936.0C1216.2,938.7 1217.7,944.8 1219.2,947.9C1220.7,951.0 1221.9,953.0 1223.6,954.6C1225.3,956.2 1227.6,958.0 1229.6,957.6C1231.6,957.2 1233.5,954.5 1235.5,952.3C1237.5,950.1 1239.6,946.1 1241.5,944.2C1243.4,942.4 1244.7,940.2 1246.7,941.2C1248.7,942.2 1251.3,949.0 1253.4,950.1C1255.5,951.2 1257.4,948.9 1259.4,947.9C1261.4,946.9 1263.3,945.2 1265.3,944.2C1267.3,943.2 1269.5,943.4 1271.3,941.9C1273.0,940.4 1274.3,937.6 1275.8,935.2C1277.3,932.9 1278.7,927.9 1280.2,927.8C1281.7,927.7 1283.3,931.9 1284.7,934.5C1286.1,937.1 1286.7,941.2 1288.4,943.4C1290.1,945.6 1292.7,945.9 1295.1,947.9C1297.5,949.9 1300.4,953.3 1302.6,955.3C1304.8,957.3 1306.5,958.6 1308.5,959.8C1310.5,961.0 1312.1,961.5 1314.9,962.3C1317.7,963.1 1322.1,964.7 1325.3,964.6C1328.5,964.5 1331.3,963.3 1334.3,961.6C1337.3,959.9 1340.2,957.1 1343.2,954.2C1346.2,951.4 1349.1,947.5 1352.1,944.5C1355.1,941.5 1359.1,939.3 1361.1,936.3C1363.1,933.3 1362.9,929.5 1364.0,926.6C1365.1,923.8 1366.3,921.3 1367.8,919.2C1369.3,917.1 1371.5,913.7 1373.0,913.9C1374.5,914.1 1375.6,917.0 1376.7,920.6C1377.8,924.2 1378.7,931.5 1379.7,935.5C1380.7,939.5 1381.6,942.5 1382.7,944.5C1383.8,946.5 1384.8,947.6 1386.4,947.5C1388.0,947.4 1390.3,945.2 1392.3,943.7C1394.3,942.2 1396.5,939.1 1398.3,938.5C1400.0,937.9 1401.3,939.1 1402.8,940.0C1404.3,940.9 1405.5,943.3 1407.2,943.7C1408.9,944.1 1411.0,942.2 1413.2,942.2C1415.4,942.2 1418.6,944.4 1420.6,943.7C1422.6,943.0 1423.8,939.8 1425.1,937.8C1426.3,935.8 1426.6,933.9 1428.1,931.8C1429.6,929.7 1432.4,927.0 1434.0,925.1C1435.6,923.2 1436.8,923.3 1437.8,920.6C1438.8,917.9 1439.3,911.1 1440.0,908.7C1440.7,906.4 1441.3,905.5 1442.2,906.5C1443.1,907.5 1444.5,910.9 1445.2,914.7C1446.0,918.6 1445.7,926.4 1446.7,929.6C1447.7,932.8 1450.1,931.5 1451.2,934.0C1452.3,936.5 1452.7,940.5 1453.4,944.5C1454.1,948.5 1454.1,954.4 1455.6,957.9C1457.1,961.4 1459.9,963.4 1462.3,965.3C1464.7,967.1 1467.3,968.1 1469.8,969.0C1472.3,969.9 1474.5,970.6 1477.2,970.5C1479.9,970.4 1483.5,969.2 1486.2,968.3C1488.9,967.4 1491.1,966.4 1493.6,965.3C1496.1,964.2 1498.6,963.3 1501.1,961.6C1503.6,959.9 1506.1,956.9 1508.5,954.9C1510.9,952.9 1513.5,949.5 1515.7,949.7C1517.9,950.0 1520.1,954.2 1521.9,956.4C1523.7,958.6 1524.2,961.2 1526.4,963.1C1528.6,965.0 1532.6,966.9 1535.3,967.6C1538.0,968.4 1540.6,966.9 1542.8,967.6C1545.0,968.3 1546.5,971.4 1548.7,972.0C1550.9,972.6 1553.5,971.5 1556.2,971.3C1558.9,971.0 1562.4,971.5 1565.1,970.5C1567.8,969.5 1570.1,966.3 1572.6,965.3C1575.1,964.3 1577.4,965.1 1580.0,964.6C1582.6,964.1 1584.4,962.5 1588.0,962.3C1591.6,962.1 1598.1,963.6 1601.8,963.2C1605.5,962.8 1607.8,961.5 1610.1,959.8C1612.4,958.1 1614.0,953.4 1615.6,952.9C1617.2,952.4 1618.3,955.2 1619.8,957.0C1621.3,958.8 1622.5,962.9 1624.6,963.9C1626.7,964.9 1629.8,964.2 1632.2,963.2C1634.6,962.2 1636.9,959.4 1639.1,957.7C1641.3,956.0 1643.3,955.4 1645.4,952.9C1647.5,950.4 1649.9,944.9 1651.6,942.5C1653.3,940.1 1653.6,939.3 1655.7,938.4C1657.8,937.5 1661.7,936.2 1664.0,937.0C1666.3,937.8 1667.8,941.6 1669.6,943.2C1671.4,944.8 1672.8,945.8 1675.1,946.6C1677.4,947.4 1680.6,948.1 1683.4,948.0C1686.2,947.9 1688.9,945.1 1691.7,946.0C1694.5,946.9 1697.2,952.6 1700.0,953.6C1702.8,954.6 1706.0,951.6 1708.3,952.2C1710.6,952.8 1711.9,954.9 1713.8,957.0C1715.7,959.1 1716.9,962.3 1719.4,964.6C1721.9,966.9 1725.9,970.0 1729.0,970.8C1732.1,971.6 1734.8,968.8 1738.0,969.5C1741.2,970.2 1744.8,974.2 1748.4,975.0C1752.0,975.8 1756.7,975.9 1759.5,974.3C1762.3,972.7 1763.4,967.4 1765.0,965.3C1766.6,963.2 1767.0,961.1 1769.1,961.9C1771.2,962.7 1774.6,969.3 1777.4,970.2C1780.2,971.1 1783.2,968.6 1785.7,967.4C1788.2,966.2 1790.4,964.9 1792.7,963.2C1795.0,961.5 1797.8,957.6 1799.6,957.0C1801.4,956.4 1802.8,957.5 1803.7,959.8C1804.6,962.1 1803.7,968.5 1805.1,970.8C1806.5,973.1 1809.7,972.2 1812.0,973.6C1814.3,975.0 1817.8,978.2 1819.0,979.1" fill="none" stroke="#0000ff" stroke-width="7" stroke-linejoin="round" stroke-linecap="butt"/>
<path d="M177.0,1155.0C181.2,1154.9 193.7,1154.6 202.0,1154.2C210.3,1153.9 217.4,1153.4 227.0,1153.0C236.6,1152.6 248.7,1151.6 259.5,1151.8C270.3,1151.9 280.8,1153.3 292.0,1153.8C303.2,1154.2 315.3,1154.4 327.0,1154.2C338.7,1154.1 352.8,1153.6 362.0,1153.0C371.2,1152.4 376.2,1151.8 382.0,1150.5C387.8,1149.2 392.8,1147.2 397.0,1145.0C401.2,1142.8 403.7,1140.8 407.0,1137.5C410.3,1134.2 414.1,1129.6 417.0,1125.0C419.9,1120.4 422.2,1115.4 424.5,1110.0C426.8,1104.6 429.1,1099.2 430.8,1092.5C432.4,1085.8 433.6,1077.7 434.5,1070.0C435.4,1062.3 435.4,1058.9 436.4,1046.4C437.4,1033.9 439.3,1010.5 440.5,995.1C441.7,979.7 442.6,965.0 443.6,954.1C444.6,943.2 445.7,935.5 446.7,929.5C447.7,923.5 447.8,919.9 449.7,918.2C451.6,916.5 455.1,920.1 458.0,919.2C460.9,918.4 464.3,915.2 467.2,913.1C470.1,911.0 472.7,909.5 475.4,906.9C478.1,904.3 481.0,901.0 483.6,897.7C486.2,894.5 488.6,889.6 490.8,887.4C493.0,885.2 494.7,883.7 496.9,884.4C499.1,885.1 501.2,889.0 504.1,891.5C507.0,894.0 511.7,896.5 514.4,899.7C517.1,903.0 518.8,906.7 520.5,911.0C522.2,915.3 523.2,918.9 524.6,925.4C526.0,931.9 527.5,941.8 528.7,950.0C529.9,958.2 530.8,967.1 531.8,974.6C532.8,982.1 533.4,989.5 534.9,995.1C536.4,1000.8 539.1,1006.3 541.0,1008.5C542.9,1010.7 544.5,1012.1 546.2,1008.5C547.9,1004.9 549.6,993.2 551.3,986.9C553.0,980.6 554.7,976.0 556.4,970.5C558.1,965.0 560.0,960.2 561.5,954.1C563.0,948.0 564.4,942.2 565.6,933.6C566.8,925.0 567.8,914.8 568.7,902.8C569.6,890.8 569.9,874.4 570.8,861.8C571.6,849.1 572.6,835.8 573.8,826.9C575.0,818.0 576.5,812.2 578.0,808.5C579.5,804.8 581.4,804.1 583.1,804.4C584.8,804.7 586.7,806.8 588.2,810.5C589.7,814.2 590.9,818.4 592.3,826.9C593.7,835.4 595.0,849.1 596.4,861.8C597.8,874.4 599.1,892.5 600.5,902.8C601.9,913.0 602.9,915.4 604.6,923.3C606.3,931.2 608.8,941.5 610.8,950.0C612.8,958.5 615.2,967.1 616.9,974.6C618.6,982.1 619.3,989.0 621.0,995.1C622.7,1001.2 625.2,1004.6 627.2,1011.5C629.2,1018.4 631.2,1028.3 633.3,1036.2C635.3,1044.1 637.5,1052.6 639.5,1058.7C641.5,1064.8 643.2,1070.0 645.6,1073.1C648.0,1076.2 651.0,1077.9 653.8,1077.2C656.5,1076.5 659.7,1073.3 662.1,1069.0C664.5,1064.7 665.8,1056.1 668.2,1051.5C670.6,1046.9 674.0,1043.5 676.4,1041.3C678.8,1039.1 680.5,1037.3 682.6,1038.2C684.7,1039.1 686.7,1043.0 688.7,1046.4C690.8,1049.8 693.0,1056.3 694.9,1058.7C696.8,1061.1 698.2,1059.1 700.0,1060.8C701.8,1062.5 704.0,1065.1 705.7,1068.8C707.4,1072.5 708.6,1079.1 710.4,1082.9C712.2,1086.7 714.1,1089.6 716.7,1091.6C719.3,1093.6 723.6,1094.7 726.2,1094.7C728.8,1094.7 730.7,1093.2 732.5,1091.6C734.3,1090.0 735.4,1086.9 737.2,1085.3C739.0,1083.7 741.4,1084.1 743.5,1082.1C745.6,1080.1 748.1,1077.5 749.8,1073.5C751.5,1069.5 752.3,1061.9 753.7,1057.8C755.1,1053.7 757.0,1049.4 758.4,1049.1C759.8,1048.8 761.2,1053.3 762.4,1056.2C763.6,1059.1 763.9,1064.7 765.5,1066.4C767.1,1068.1 769.6,1065.8 771.8,1066.4C774.0,1067.1 776.5,1070.3 778.9,1070.3C781.3,1070.3 783.8,1068.8 786.0,1066.4C788.2,1064.1 790.4,1061.1 792.2,1056.2C794.0,1051.3 795.7,1044.4 797.0,1037.3C798.3,1030.2 799.1,1022.9 800.1,1013.7C801.1,1004.5 802.4,990.3 803.3,982.2C804.2,974.1 804.7,968.7 805.6,964.9C806.5,961.1 807.8,958.9 808.8,959.4C809.8,959.9 810.7,963.5 811.9,968.1C813.1,972.7 814.3,980.7 815.8,987.0C817.2,993.3 819.0,999.2 820.6,1005.8C822.2,1012.3 823.7,1020.0 825.3,1026.3C826.9,1032.6 828.2,1038.9 830.0,1043.6C831.8,1048.3 834.2,1050.5 836.3,1054.6C838.4,1058.7 840.6,1065.1 842.6,1068.0C844.6,1070.9 846.3,1072.3 848.1,1071.9C849.9,1071.5 851.9,1068.8 853.6,1065.6C855.3,1062.4 856.7,1056.9 858.3,1053.0C859.9,1049.1 861.7,1045.9 863.0,1042.0C864.3,1038.1 865.2,1033.1 866.2,1029.4C867.2,1025.7 868.0,1021.6 869.3,1020.0C870.6,1018.4 872.5,1019.5 874.0,1020.0C875.5,1020.5 876.7,1023.9 878.0,1023.1C879.3,1022.3 880.2,1017.8 881.9,1015.3C883.6,1012.8 885.8,1009.9 888.2,1008.2C890.6,1006.5 893.4,1004.7 896.1,1005.1C898.9,1005.5 902.4,1010.5 904.7,1010.6C907.1,1010.7 908.5,1008.4 910.2,1005.8C911.9,1003.2 913.5,1000.0 914.9,994.8C916.3,989.6 917.7,983.0 918.9,974.4C920.1,965.8 921.1,952.9 922.0,942.9C922.9,932.9 923.5,920.8 924.4,914.6C925.3,908.5 926.5,906.0 927.5,906.0C928.5,906.0 929.7,907.1 930.7,914.6C931.8,922.1 932.6,940.3 933.8,950.8C935.0,961.3 936.5,969.4 937.8,977.5C939.1,985.6 940.0,994.1 941.7,999.6C943.4,1005.1 945.9,1007.7 948.0,1010.6C950.1,1013.5 952.2,1015.1 954.3,1016.9C956.4,1018.7 958.5,1022.1 960.6,1021.6C962.7,1021.1 965.3,1015.4 966.9,1013.7C968.5,1012.0 969.1,1010.6 970.4,1011.6C971.7,1012.6 973.6,1016.2 974.9,1019.8C976.1,1023.4 976.7,1029.2 977.9,1033.2C979.1,1037.2 980.2,1040.9 982.3,1043.6C984.4,1046.3 988.3,1049.6 990.5,1049.6C992.7,1049.6 994.3,1047.1 995.7,1043.6C997.1,1040.1 997.6,1032.4 998.7,1028.7C999.8,1025.0 1001.1,1021.3 1002.4,1021.3C1003.6,1021.3 1004.8,1026.5 1006.2,1028.7C1007.6,1030.9 1008.9,1033.5 1010.6,1034.7C1012.3,1036.0 1014.6,1036.6 1016.6,1036.2C1018.6,1035.8 1020.7,1033.5 1022.6,1032.4C1024.5,1031.3 1026.1,1029.1 1027.8,1029.5C1029.5,1029.9 1031.6,1031.9 1033.0,1034.7C1034.4,1037.5 1035.0,1041.9 1036.0,1046.6C1037.0,1051.3 1037.7,1057.5 1038.9,1063.0C1040.1,1068.5 1041.9,1074.4 1043.4,1079.4C1044.9,1084.4 1046.4,1089.6 1047.9,1092.8C1049.4,1096.0 1050.7,1097.5 1052.3,1098.7C1053.9,1099.9 1055.8,1100.7 1057.6,1100.2C1059.3,1099.7 1061.2,1098.2 1062.8,1095.7C1064.4,1093.2 1065.5,1088.5 1067.2,1085.3C1068.9,1082.1 1071.2,1078.0 1073.2,1076.4C1075.2,1074.8 1077.2,1076.8 1079.2,1075.6C1081.2,1074.3 1083.6,1072.2 1085.1,1068.9C1086.6,1065.6 1087.0,1059.2 1088.1,1055.5C1089.2,1051.8 1090.6,1046.8 1091.8,1046.6C1093.0,1046.3 1094.1,1050.8 1095.5,1054.0C1096.9,1057.2 1098.2,1062.0 1100.0,1066.0C1101.8,1070.0 1104.0,1074.2 1106.0,1077.9C1108.0,1081.6 1109.7,1085.3 1111.9,1088.3C1114.1,1091.3 1117.2,1093.6 1119.4,1095.7C1121.6,1097.8 1123.3,1099.9 1125.3,1101.0C1127.3,1102.1 1129.3,1103.1 1131.3,1102.5C1133.3,1101.9 1135.6,1100.6 1137.2,1097.2C1138.8,1093.8 1139.9,1088.5 1141.0,1082.3C1142.1,1076.1 1142.8,1065.2 1143.9,1060.0C1145.0,1054.8 1146.3,1050.3 1147.4,1051.1C1148.5,1051.8 1149.7,1057.3 1150.6,1064.5C1151.5,1071.7 1152.0,1085.6 1152.9,1094.3C1153.8,1103.0 1154.7,1111.1 1155.9,1116.6C1157.1,1122.0 1158.5,1125.0 1160.3,1127.0C1162.1,1129.0 1164.6,1128.9 1167.0,1128.5C1169.4,1128.1 1172.5,1126.3 1174.5,1124.8C1176.5,1123.3 1177.5,1122.4 1178.9,1119.6C1180.3,1116.8 1181.5,1110.3 1182.7,1107.7C1184.0,1105.1 1185.2,1103.7 1186.4,1103.9C1187.6,1104.2 1188.9,1106.6 1190.1,1109.2C1191.3,1111.8 1192.4,1117.8 1193.8,1119.6C1195.2,1121.4 1196.9,1120.7 1198.3,1120.3C1199.7,1119.9 1200.5,1117.4 1202.0,1117.3C1203.5,1117.2 1205.5,1119.0 1207.2,1119.6C1209.0,1120.2 1211.0,1119.4 1212.5,1121.1C1214.0,1122.8 1214.6,1127.5 1216.2,1130.0C1217.8,1132.5 1220.1,1134.5 1222.1,1136.0C1224.1,1137.5 1226.1,1138.5 1228.1,1138.9C1230.1,1139.3 1232.0,1139.1 1234.0,1138.2C1236.0,1137.3 1238.1,1134.9 1240.0,1133.7C1241.9,1132.5 1242.8,1130.5 1245.2,1131.0C1247.7,1131.5 1251.9,1136.3 1254.7,1136.6C1257.5,1136.9 1259.1,1133.7 1261.9,1132.6C1264.7,1131.5 1269.1,1131.1 1271.5,1130.2C1273.9,1129.3 1274.8,1128.2 1276.3,1127.0C1277.8,1125.8 1278.8,1122.5 1280.3,1123.0C1281.8,1123.5 1283.3,1128.1 1285.0,1130.2C1286.7,1132.3 1288.6,1134.5 1290.6,1135.8C1292.6,1137.1 1294.3,1136.9 1297.0,1138.2C1299.7,1139.5 1303.1,1142.7 1306.6,1143.8C1310.1,1144.9 1314.1,1144.7 1317.8,1144.6C1321.5,1144.5 1325.7,1144.3 1328.9,1143.0C1332.1,1141.7 1334.2,1139.3 1336.9,1136.6C1339.6,1133.9 1342.5,1130.5 1344.9,1127.0C1347.3,1123.5 1349.2,1119.1 1351.3,1115.9C1353.4,1112.7 1355.6,1110.7 1357.7,1107.9C1359.8,1105.1 1361.6,1101.6 1364.0,1099.1C1366.4,1096.6 1369.9,1092.8 1372.0,1092.7C1374.1,1092.6 1375.2,1094.7 1376.8,1098.3C1378.4,1101.9 1379.7,1111.4 1381.6,1114.3C1383.5,1117.2 1385.9,1116.2 1388.0,1115.9C1390.1,1115.6 1392.6,1113.6 1394.4,1112.7C1396.2,1111.8 1397.2,1109.9 1399.1,1110.3C1400.9,1110.7 1402.8,1114.4 1405.5,1115.1C1408.2,1115.8 1412.4,1113.2 1415.1,1114.3C1417.8,1115.3 1419.1,1121.3 1421.5,1121.4C1423.9,1121.5 1427.1,1117.3 1429.5,1115.1C1431.9,1112.8 1434.2,1111.0 1435.8,1107.9C1437.4,1104.8 1438.1,1099.2 1439.0,1096.7C1439.9,1094.2 1440.5,1090.8 1441.4,1092.7C1442.3,1094.6 1443.0,1104.2 1444.6,1107.9C1446.2,1111.6 1449.4,1111.1 1451.0,1115.1C1452.6,1119.1 1452.7,1127.7 1454.2,1131.8C1455.7,1135.9 1457.5,1137.3 1459.8,1139.8C1462.1,1142.3 1465.0,1145.4 1467.8,1147.0C1470.6,1148.6 1473.6,1149.1 1476.5,1149.4C1479.4,1149.7 1482.2,1149.4 1485.3,1148.6C1488.4,1147.8 1492.2,1145.8 1494.9,1144.6C1497.6,1143.4 1498.9,1143.1 1501.3,1141.4C1503.7,1139.7 1507.0,1136.5 1509.2,1134.2C1511.5,1131.9 1512.9,1128.2 1514.8,1127.8C1516.7,1127.4 1518.7,1129.5 1520.4,1131.8C1522.1,1134.1 1523.6,1139.0 1525.2,1141.4C1526.8,1143.8 1527.8,1144.9 1530.0,1146.2C1532.2,1147.5 1535.1,1148.6 1538.1,1149.4C1541.1,1150.2 1544.4,1151.0 1548.0,1151.0C1551.6,1151.0 1556.0,1150.5 1559.6,1149.4C1563.2,1148.3 1566.5,1145.9 1569.5,1144.4C1572.5,1142.9 1575.2,1141.4 1577.7,1140.3C1580.2,1139.2 1582.1,1138.3 1584.3,1137.8C1586.5,1137.2 1588.4,1137.1 1590.9,1137.0C1593.4,1136.9 1596.3,1136.7 1599.1,1137.0C1601.8,1137.3 1604.7,1139.4 1607.4,1138.6C1610.2,1137.8 1613.1,1132.1 1615.6,1132.0C1618.1,1131.9 1619.5,1136.4 1622.2,1137.8C1625.0,1139.2 1628.8,1139.9 1632.1,1140.3C1635.4,1140.7 1639.0,1141.7 1642.0,1140.3C1645.0,1138.9 1648.1,1133.8 1650.3,1132.0C1652.5,1130.2 1653.8,1129.6 1655.2,1129.6C1656.6,1129.6 1657.1,1132.5 1658.5,1132.0C1659.9,1131.5 1661.8,1126.3 1663.4,1126.3C1665.1,1126.3 1666.5,1130.3 1668.4,1132.0C1670.3,1133.7 1672.5,1135.4 1675.0,1136.2C1677.5,1137.0 1680.5,1137.3 1683.2,1137.0C1686.0,1136.7 1689.0,1134.1 1691.5,1134.5C1694.0,1134.9 1696.2,1139.1 1698.1,1139.5C1700.0,1139.9 1701.1,1138.0 1703.0,1137.0C1704.9,1136.0 1706.8,1132.9 1709.6,1133.7C1712.3,1134.5 1716.5,1140.4 1719.5,1141.9C1722.5,1143.4 1725.2,1143.1 1727.7,1142.8C1730.2,1142.5 1731.8,1140.6 1734.3,1140.3C1736.8,1140.0 1739.6,1140.0 1742.6,1141.1C1745.6,1142.2 1749.5,1146.1 1752.5,1146.9C1755.5,1147.7 1758.0,1147.2 1760.7,1146.1C1763.5,1145.0 1766.5,1140.2 1769.0,1140.3C1771.5,1140.4 1773.1,1145.8 1775.6,1146.9C1778.1,1148.0 1781.3,1147.2 1783.8,1146.9C1786.3,1146.6 1787.7,1145.1 1790.4,1145.2C1793.2,1145.3 1797.3,1146.3 1800.3,1147.7C1803.3,1149.1 1805.4,1152.3 1808.5,1153.5C1811.6,1154.7 1817.2,1154.8 1819.0,1155.1" fill="none" stroke="#ff00ff" stroke-width="7" stroke-linejoin="round" stroke-linecap="butt"/>
<g fill="#000">
<rect x="173" y="13" width="6" height="1233"/>
<rect x="173" y="13" width="1650" height="3"/>
<rect x="1818" y="13" width="5" height="1233"/>
<rect x="173" y="1241" width="1650" height="5"/>
</g>
<g stroke="#000" stroke-linecap="round">
<line x1="176.0" y1="1244" x2="176.0" y2="1266.3" stroke-width="6"/>
<line x1="278.8" y1="1244" x2="278.8" y2="1255.3" stroke-width="5.3"/>
<line x1="381.6" y1="1244" x2="381.6" y2="1266.3" stroke-width="5.3"/>
<line x1="484.3" y1="1244" x2="484.3" y2="1255.3" stroke-width="5.3"/>
<line x1="587.1" y1="1244" x2="587.1" y2="1266.3" stroke-width="5.3"/>
<line x1="689.9" y1="1244" x2="689.9" y2="1255.3" stroke-width="5.3"/>
<line x1="792.7" y1="1244" x2="792.7" y2="1266.3" stroke-width="5.3"/>
<line x1="895.5" y1="1244" x2="895.5" y2="1255.3" stroke-width="5.3"/>
<line x1="998.2" y1="1244" x2="998.2" y2="1266.3" stroke-width="5.3"/>
<line x1="1101.0" y1="1244" x2="1101.0" y2="1255.3" stroke-width="5.3"/>
<line x1="1203.8" y1="1244" x2="1203.8" y2="1266.3" stroke-width="5.3"/>
<line x1="1306.6" y1="1244" x2="1306.6" y2="1255.3" stroke-width="5.3"/>
<line x1="1409.4" y1="1244" x2="1409.4" y2="1266.3" stroke-width="5.3"/>
<line x1="1512.2" y1="1244" x2="1512.2" y2="1255.3" stroke-width="5.3"/>
<line x1="1614.9" y1="1244" x2="1614.9" y2="1266.3" stroke-width="5.3"/>
<line x1="1717.7" y1="1244" x2="1717.7" y2="1255.3" stroke-width="5.3"/>
<line x1="1820.5" y1="1244" x2="1820.5" y2="1266.3" stroke-width="5"/>
</g>
<g font-family="Liberation Sans, Arial, sans-serif" font-size="52" text-anchor="middle" fill="#000">
<text transform="translate(176.0,1324.9) scale(0.98,1)">2000</text>
<text transform="translate(381.6,1324.9) scale(0.98,1)">1800</text>
<text transform="translate(587.1,1324.9) scale(0.98,1)">1600</text>
<text transform="translate(792.7,1324.9) scale(0.98,1)">1400</text>
<text transform="translate(998.2,1324.9) scale(0.98,1)">1200</text>
<text transform="translate(1203.8,1324.9) scale(0.98,1)">1000</text>
<text transform="translate(1409.4,1324.9) scale(0.98,1)">800</text>
<text transform="translate(1614.9,1324.9) scale(0.98,1)">600</text>
<text transform="translate(1820.5,1324.9) scale(0.98,1)">400</text>
</g>
<text transform="matrix(1.0115 0 0 1.0302 195.18 93.70)" font-family="Liberation Serif, 'Times New Roman', serif" font-size="48" font-weight="normal" fill="#000">(a) Coumarin-COOH BZ</text>
<text transform="matrix(1.0162 0 0 1.0227 194.87 599.57)" font-family="Liberation Serif, 'Times New Roman', serif" font-size="48" font-weight="normal" fill="#000">(b) 150</text>
<text transform="matrix(1.0818 0 0 0.9231 348.92 574.30)" font-family="Liberation Serif, 'Times New Roman', serif" font-size="27" font-weight="normal" fill="#000">o</text>
<text transform="matrix(1.0407 0 0 1.0594 363.92 599.70)" font-family="Liberation Serif, 'Times New Roman', serif" font-size="48" font-weight="normal" fill="#000">C</text>
<text transform="matrix(1.0158 0 0 1.0442 185.97 775.26)" font-family="Liberation Serif, 'Times New Roman', serif" font-size="48" font-weight="normal" fill="#000">(c) 180</text>
<text transform="matrix(1.1091 0 0 0.9462 337.69 750.60)" font-family="Liberation Serif, 'Times New Roman', serif" font-size="27" font-weight="normal" fill="#000">o</text>
<text transform="matrix(1.0444 0 0 1.0813 351.61 776.20)" font-family="Liberation Serif, 'Times New Roman', serif" font-size="48" font-weight="normal" fill="#000">C</text>
<text transform="matrix(1.0140 0 0 1.0182 189.97 939.62)" font-family="Liberation Serif, 'Times New Roman', serif" font-size="48" font-weight="normal" fill="#000">(d) 210</text>
<text transform="matrix(1.0818 0 0 0.9231 343.82 914.10)" font-family="Liberation Serif, 'Times New Roman', serif" font-size="27" font-weight="normal" fill="#000">o</text>
<text transform="matrix(1.0296 0 0 1.0719 358.74 940.30)" font-family="Liberation Serif, 'Times New Roman', serif" font-size="48" font-weight="normal" fill="#000">C</text>
<text transform="matrix(1.0173 0 0 1.0442 186.77 1131.46)" font-family="Liberation Serif, 'Times New Roman', serif" font-size="48" font-weight="normal" fill="#000">(e) 240</text>
<text transform="matrix(1.1091 0 0 0.9231 338.59 1106.20)" font-family="Liberation Serif, 'Times New Roman', serif" font-size="27" font-weight="normal" fill="#000">o</text>
<text transform="matrix(1.0444 0 0 1.0906 352.81 1132.10)" font-family="Liberation Serif, 'Times New Roman', serif" font-size="48" font-weight="normal" fill="#000">C</text>
<text transform="matrix(0.9346 0 0 0.9781 915.76 139.10)" font-family="Liberation Serif, 'Times New Roman', serif" font-size="48" font-weight="normal" fill="#000">1269 cm</text>
<text transform="matrix(0.8650 0 0 1.0222 1072.84 116.80)" font-family="Liberation Serif, 'Times New Roman', serif" font-size="27" font-weight="normal" fill="#000">-1</text>
<text transform="matrix(0.9309 0 0 0.9781 746.98 194.20)" font-family="Liberation Serif, 'Times New Roman', serif" font-size="48" font-weight="normal" fill="#000">1383 cm</text>
<text transform="matrix(0.8650 0 0 1.0778 903.93 172.20)" font-family="Liberation Serif, 'Times New Roman', serif" font-size="27" font-weight="normal" fill="#000">-1</text>
<text transform="matrix(0.9253 0 0 0.9781 1068.40 271.00)" font-family="Liberation Serif, 'Times New Roman', serif" font-size="48" font-weight="normal" fill="#000">1055 cm</text>
<text transform="matrix(0.8400 0 0 1.0389 1224.86 248.10)" font-family="Liberation Serif, 'Times New Roman', serif" font-size="27" font-weight="normal" fill="#000">-1</text>
<text transform="matrix(0.9407 0 0 0.9719 1249.12 226.90)" font-family="Liberation Serif, 'Times New Roman', serif" font-size="48" font-weight="normal" fill="#000">922 cm</text>
<text transform="matrix(0.8400 0 0 1.0611 1385.16 204.40)" font-family="Liberation Serif, 'Times New Roman', serif" font-size="27" font-weight="normal" fill="#000">-1</text>
<text transform="matrix(0.8916 0 0 1.0281 399.22 217.90)" font-family="Liberation Serif, 'Times New Roman', serif" font-size="48" font-weight="bold" fill="#ff0000">C=O</text>
<text transform="matrix(1.0182 0 0 1.0158 724.20 1433.19)" font-family="Liberation Sans, Arial, sans-serif" font-size="62" font-weight="normal" fill="#000">Wavenumber (cm</text>
<text transform="matrix(0.8219 0 0 0.9464 1219.66 1401.60)" font-family="Liberation Sans, Arial, sans-serif" font-size="40" font-weight="normal" fill="#000">-1</text>
<text transform="matrix(0.9125 0 0 1.0158 1255.19 1433.19)" font-family="Liberation Sans, Arial, sans-serif" font-size="62" font-weight="normal" fill="#000">)</text>
<text transform="translate(60.8,922.6) rotate(-90) scale(1.0215,1.016)" font-family="Liberation Sans, Arial, sans-serif" font-size="62" fill="#000">Absorbance (a.u.)</text>
<g stroke="#ff0000" stroke-width="2.8" fill="none">
<line x1="353.2" y1="262.8" x2="427" y2="333"/>
<line x1="510.9" y1="117.75" x2="510.9" y2="195"/>
<line x1="812.9" y1="225.1" x2="812.9" y2="302"/>
<line x1="976.5" y1="183.2" x2="976.5" y2="197"/>
<line x1="1148.75" y1="278.75" x2="1148.75" y2="377"/>
<line x1="1291.5" y1="227" x2="1291.5" y2="330"/>
</g>
<g fill="#ff0000">
<polygon points="420.1,338 432.2,326.4 448.4,353.5"/>
<polygon points="502.1,193.1 519.3,193.1 510.7,225.1"/>
<polygon points="804.1,300 820.9,300 812.5,331.7"/>
<polygon points="967.9,195.2 984.9,195.2 976.4,226.6"/>
<polygon points="1140.0,375 1157.0,375 1148.5,405"/>
<polygon points="1283.2,328.75 1300.0,328.75 1291.6,358.75"/>
</g>
</svg></body></html>
